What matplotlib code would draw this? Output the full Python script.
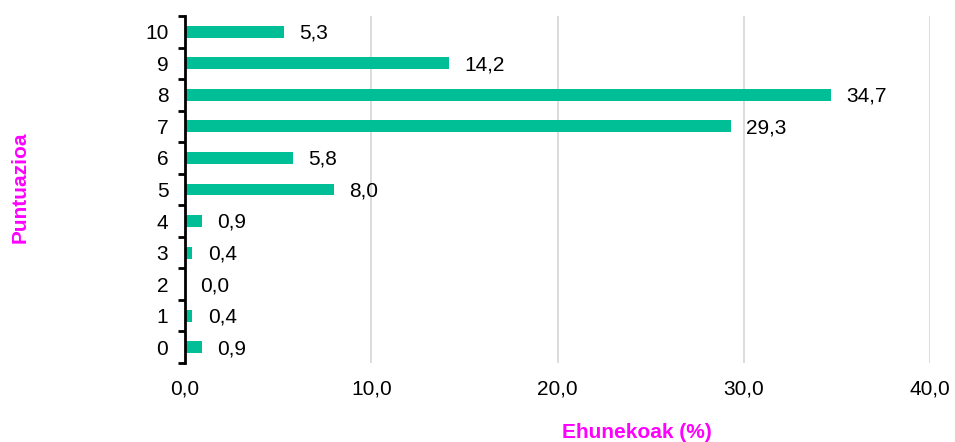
import matplotlib
matplotlib.use("Agg")
import matplotlib.pyplot as plt
from matplotlib.ticker import FixedLocator, FuncFormatter

categories = ["0", "1", "2", "3", "4", "5", "6", "7", "8", "9", "10"]
values = [0.9, 0.4, 0.0, 0.4, 0.9, 8.0, 5.8, 29.3, 34.7, 14.2, 5.3]
xticks = [0, 10, 20, 30, 40]

plt.rcParams['font.family'] = ['Liberation Sans', 'DejaVu Sans']
FS = 15

fig = plt.figure(figsize=(9.55, 4.42), dpi=100)
ax = fig.add_axes([185/955, 1-363/442, (930-185)/955, (363-16)/442])

pos = list(range(len(categories)))
ax.barh(pos, values, height=0.38, color="#00BF96", zorder=3)

for p, v in zip(pos, values):
    ax.annotate(f"{v:.1f}".replace(".", ","), xy=(v, p), xytext=(11, -1),
                textcoords="offset points", va="center", ha="left", fontsize=FS)

ax.set_xlim(0, 40)
ax.set_ylim(-0.5, 10.5)
ax.set_xticks(xticks)
ax.xaxis.set_major_formatter(FuncFormatter(lambda x, _: f"{x:.1f}".replace(".", ",")))
ax.tick_params(axis="x", length=0, labelsize=FS, pad=12)
ax.xaxis.grid(True, color="#D9D9D9", linewidth=1.3, zorder=0)

ax.yaxis.set_major_locator(FixedLocator([i - 0.5 for i in range(len(categories) + 1)]))
ax.yaxis.set_major_formatter(FuncFormatter(lambda x, _: ""))
ax.yaxis.set_minor_locator(FixedLocator(pos))
ax.set_yticklabels(categories, minor=True)
ax.tick_params(axis="y", which="major", length=5, width=2, direction="out", color="black")
ax.tick_params(axis="y", which="minor", length=0, labelsize=FS, pad=12)

for s in ["top", "right", "bottom"]:
    ax.spines[s].set_visible(False)
ax.spines["left"].set_linewidth(2)
ax.spines["left"].set_zorder(4)

fig.text(637/955, 1-432/442, "Ehunekoak (%)", color="#FF00FF", fontsize=FS,
         fontweight="bold", ha="center", va="center")
fig.text(20/955, 1-187/442, "Puntuazioa", color="#FF00FF", fontsize=FS,
         fontweight="bold", ha="center", va="center", rotation=90)

fig.savefig("out.png", dpi=100)
